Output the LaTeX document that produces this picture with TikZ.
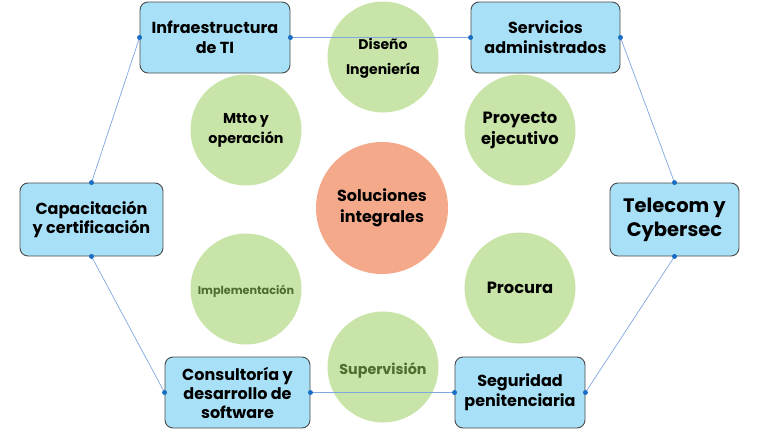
\documentclass[tikz,border=0pt]{standalone}
\usepackage{fontspec}
\setmainfont{Poppins}[UprightFont=* Bold]
\definecolor{boxfill}{HTML}{A8E0F7}
\definecolor{boxdraw}{HTML}{4A4A4A}
\definecolor{circ}{HTML}{C8E4A8}
\definecolor{salmon}{HTML}{F4A98A}
\definecolor{lin}{HTML}{7FA6E0}
\definecolor{dotc}{HTML}{1A6FC4}
\definecolor{dgreen}{HTML}{4E6E30}
\tikzset{
  box/.style={draw=boxdraw, line width=0.9pt, fill=boxfill, rounded corners=8pt, align=center, inner sep=0pt},
  circnode/.style={circle, fill=circ, align=center, inner sep=0pt, minimum size=111pt},
  conn/.style={draw=lin, line width=0.7pt},
  dotm/.style={circle, fill=dotc, inner sep=0pt, minimum size=5pt},
}
\begin{document}
\begin{tikzpicture}[x=1pt,y=-1pt]
\useasboundingbox (0,0) rectangle (768,431);
% circles
\node[circnode] (dis) at (383,57) {};
\node[font=\fontsize{14}{16}\selectfont] (dist) at (383,44) {Diseño};
\node[font=\fontsize{14}{16}\selectfont] (ingt) at (383,71) {Ingeniería};
\node[circnode, font=\fontsize{14.3}{20}\selectfont] (mtto) at (246,130) {Mtto y\\operación};
\node[circnode, font=\fontsize{16.3}{21}\selectfont] (proy) at (520,130) {Proyecto\\ejecutivo};
\node[circle, fill=salmon, align=center, inner sep=0pt, minimum size=132pt, font=\fontsize{16}{21}\selectfont] (sol) at (382,208) {Soluciones\\integrales};
\node[circnode] (impl) at (246,289) {};
\node[font=\fontsize{11.2}{13}\selectfont, text=dgreen] (implt) at (246,291) {Implementación};
\node[circnode, font=\fontsize{16.3}{18}\selectfont] (proc) at (520,288) {Procura};
\node[circnode] (sup) at (383,367) {};
\node[font=\fontsize{14.3}{16}\selectfont, text=dgreen] (supt) at (383,370) {Supervisión};
% boxes
\node[box, minimum width=150pt, minimum height=71pt, font=\fontsize{16}{20}\selectfont] (infra) at (215,37.5) {Infraestructura\\de TI};
\node[box, minimum width=149pt, minimum height=71pt, font=\fontsize{16}{20}\selectfont] (serv) at (545.5,37.5) {Servicios\\administrados};
\node[box, minimum width=143pt, minimum height=73pt, font=\fontsize{16}{19}\selectfont] (cap) at (91.5,219.5) {Capacitación\\y certificación};
\node[box, minimum width=129pt, minimum height=73pt, font=\fontsize{19.5}{24}\selectfont] (tel) at (674.5,219.5) {Telecom y\\Cybersec};
\node[box, minimum width=145pt, minimum height=71pt, font=\fontsize{16}{19}\selectfont] (cons) at (237.5,392.5) {Consultoría y\\desarrollo de\\software};
\node[box, minimum width=130pt, minimum height=71pt, font=\fontsize{16}{20}\selectfont] (seg) at (520,392.5) {Seguridad\\penitenciaria};
% connectors
\draw[conn] (infra.east) -- (serv.west);
\draw[conn] (serv.east) -- (tel.north);
\draw[conn] (tel.south) -- (seg.east);
\draw[conn] (seg.west) -- (cons.east);
\draw[conn] (cons.west) -- (cap.south);
\draw[conn] (cap.north) -- (infra.west);
% dots
\foreach \n/\a in {infra/east,infra/west,serv/east,serv/west,tel/north,tel/south,seg/east,seg/west,cons/east,cons/west,cap/north,cap/south}
  \node[dotm] at (\n.\a) {};
\end{tikzpicture}
\end{document}
